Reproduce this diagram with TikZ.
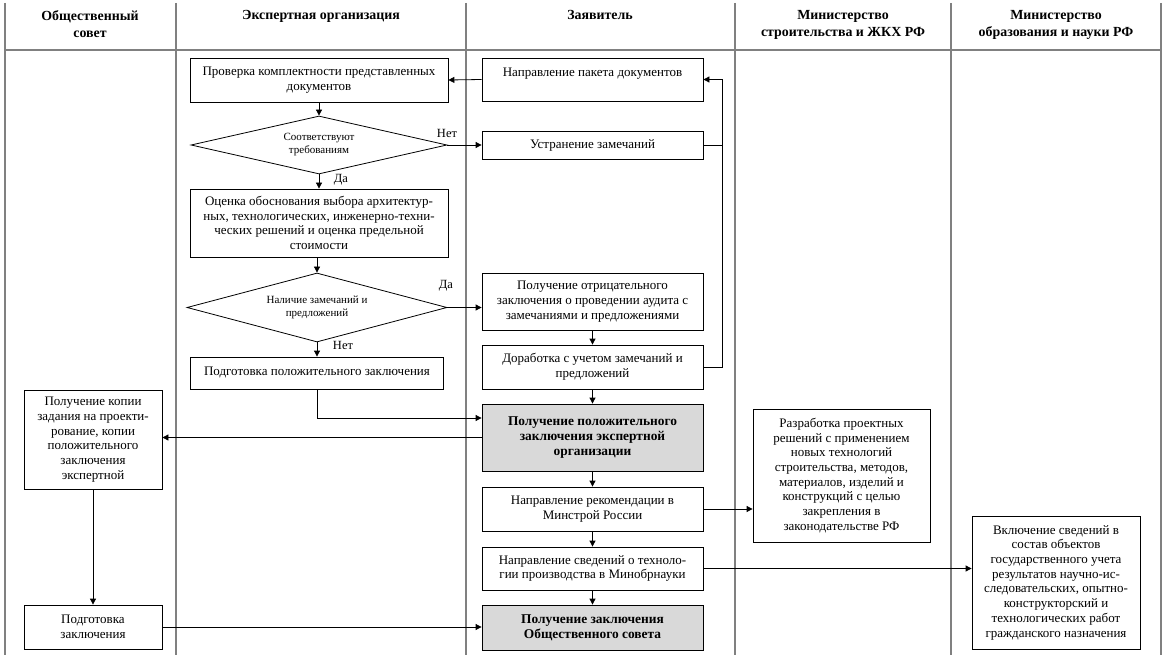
\documentclass[tikz,border=0pt]{standalone}
\usepackage{fontspec}
\setmainfont{Liberation Serif}
\usetikzlibrary{shapes.geometric,arrows.meta}
\begin{document}
\begin{tikzpicture}[x=1pt,y=-1pt,
  box/.style={draw,line width=0.8pt,align=center,inner sep=0pt,font=\fontsize{13}{14.7}\selectfont},
  greybox/.style={box,fill=gray!30,font=\fontsize{13.4}{15}\selectfont\bfseries},
  decision/.style={draw,diamond,line width=0.8pt,inner sep=0pt,align=center,font=\fontsize{11}{13}\selectfont},
  head/.style={anchor=north,align=center,inner sep=0pt,font=\fontsize{13.9}{17}\selectfont\bfseries},
  lbl/.style={inner sep=0pt,font=\fontsize{12.5}{14}\selectfont},
  lane/.style={gray,line width=1.5pt},
  >={Triangle[length=6pt,width=6pt]},line width=0.8pt]
\useasboundingbox (0,0) rectangle (1165,655);
\draw[lane] (5,3)--(5,655) (176,3)--(176,655) (466,3)--(466,655) (735,3)--(735,655) (951,3)--(951,655) (1161,3)--(1161,655);
\draw[lane] (5,50)--(1161,50);
\node[head] (hsov) at (90,10) {Общественный\\совет};
\node[head] (hexp) at (321,10) {Экспертная организация};
\node[head] (hzay) at (600,10) {Заявитель};
\node[head] (hstr) at (843,10) {Министерство\\строительства и ЖКХ РФ};
\node[head] (hobr) at (1056,10) {Министерство\\образования и науки РФ};
\node[box,minimum width=258pt,minimum height=44pt] (prov) at (319,80) {Проверка комплектности представленных\\документов};
\node[decision,aspect=4.4,minimum width=256pt,minimum height=58pt] (d1) at (319,145) {Соответствуют\\требованиям};
\node[box,minimum width=258pt,minimum height=68pt] (oc) at (319,223) {Оценка обоснования выбора архитектур-\\ных, технологических, инженерно-техни-\\ческих решений и оценка предельной\\стоимости};
\node[decision,aspect=3.77,minimum width=260pt,minimum height=69pt] (d2) at (317,307.5) {Наличие замечаний и\\предложений};
\node[box,minimum width=253pt,minimum height=32pt] (pod) at (317,373) {Подготовка положительного заключения};
\node[box,minimum width=221pt,minimum height=43pt] (pak) at (592.5,79.5) {Направление пакета документов\\~};
\node[box,minimum width=221pt,minimum height=28pt] (ustr) at (592.5,145) {Устранение замечаний};
\node[box,minimum width=221pt,minimum height=57pt] (otr) at (592.5,301.5) {Получение отрицательного\\заключения о проведении аудита с\\замечаниями и предложениями};
\node[box,minimum width=221pt,minimum height=44pt] (dor) at (592.5,367) {Доработка с учетом замечаний и\\предложений};
\node[greybox,minimum width=221pt,minimum height=67pt] (polpos) at (592.5,437.5) {Получение положительного\\заключения экспертной\\организации};
\node[box,minimum width=221pt,minimum height=44pt] (rek) at (592.5,509) {Направление рекомендации в\\Минстрой России};
\node[box,minimum width=221pt,minimum height=43pt] (sved) at (592.5,568.5) {Направление сведений о техноло-\\гии производства в Минобрнауки};
\node[greybox,minimum width=221pt,minimum height=45pt] (polob) at (592.5,627.5) {Получение заключения\\Общественного совета};
\node[box,minimum width=138pt,minimum height=99pt] (kop) at (93,439.5) {Получение копии\\задания на проекти-\\рование, копии\\положительного\\заключения\\экспертной};
\node[box,minimum width=138pt,minimum height=44pt] (obpod) at (93,627) {Подготовка\\заключения};
\node[box,minimum width=177pt,minimum height=133pt] (razr) at (841.5,475.5) {Разработка проектных\\решений с применением\\новых технологий\\строительства, методов,\\материалов, изделий и\\конструкций с целью\\закрепления в\\законодательстве РФ};
\node[box,minimum width=168pt,minimum height=133pt] (vkl) at (1056,582.5) {Включение сведений в\\состав объектов\\государственного учета\\результатов научно-ис-\\следовательских, опытно-\\конструкторский и\\технологических работ\\гражданского назначения};
\coordinate (ret) at (722,79.5);
\draw[->] (pak.west) -- (prov.east);
\draw[->] (prov.south) -- (d1.north);
\draw[->] (d1.south) -- (oc.north);
\draw[->] (d2.north |- oc.south) -- (d2.north);
\draw[->] (d2.south) -- (pod.north);
\draw[->] (d1.east) -- (ustr.west);
\draw[->] (d2.east) -- (d2.east -| otr.west);
\draw (ustr.east) -- (ustr.east -| ret);
\draw[->] (dor.east) -| (ret) -- (pak.east);
\draw[->] (otr.south) -- (dor.north);
\draw[->] (dor.south) -- (polpos.north);
\draw[->] (pod.south) |- ([yshift=19.5pt]polpos.west);
\draw[->] (polpos.west) -- (polpos.west -| kop.east);
\draw[->] (kop.south) -- (obpod.north);
\draw[->] (obpod.east) -- (obpod.east -| polob.west);
\draw[->] (polpos.south) -- (rek.north);
\draw[->] (rek.south) -- (sved.north);
\draw[->] (sved.south) -- (polob.north);
\draw[->] (rek.east) -- (rek.east -| razr.west);
\draw[->] (sved.east) -- (sved.east -| vkl.west);
\node[lbl] (no1) at (447,133) {Нет};
\node[lbl] (yes1) at (341,180) {Да};
\node[lbl] (yes2) at (446,286) {Да};
\node[lbl] (no2) at (343,345) {Нет};
\end{tikzpicture}
\end{document}
